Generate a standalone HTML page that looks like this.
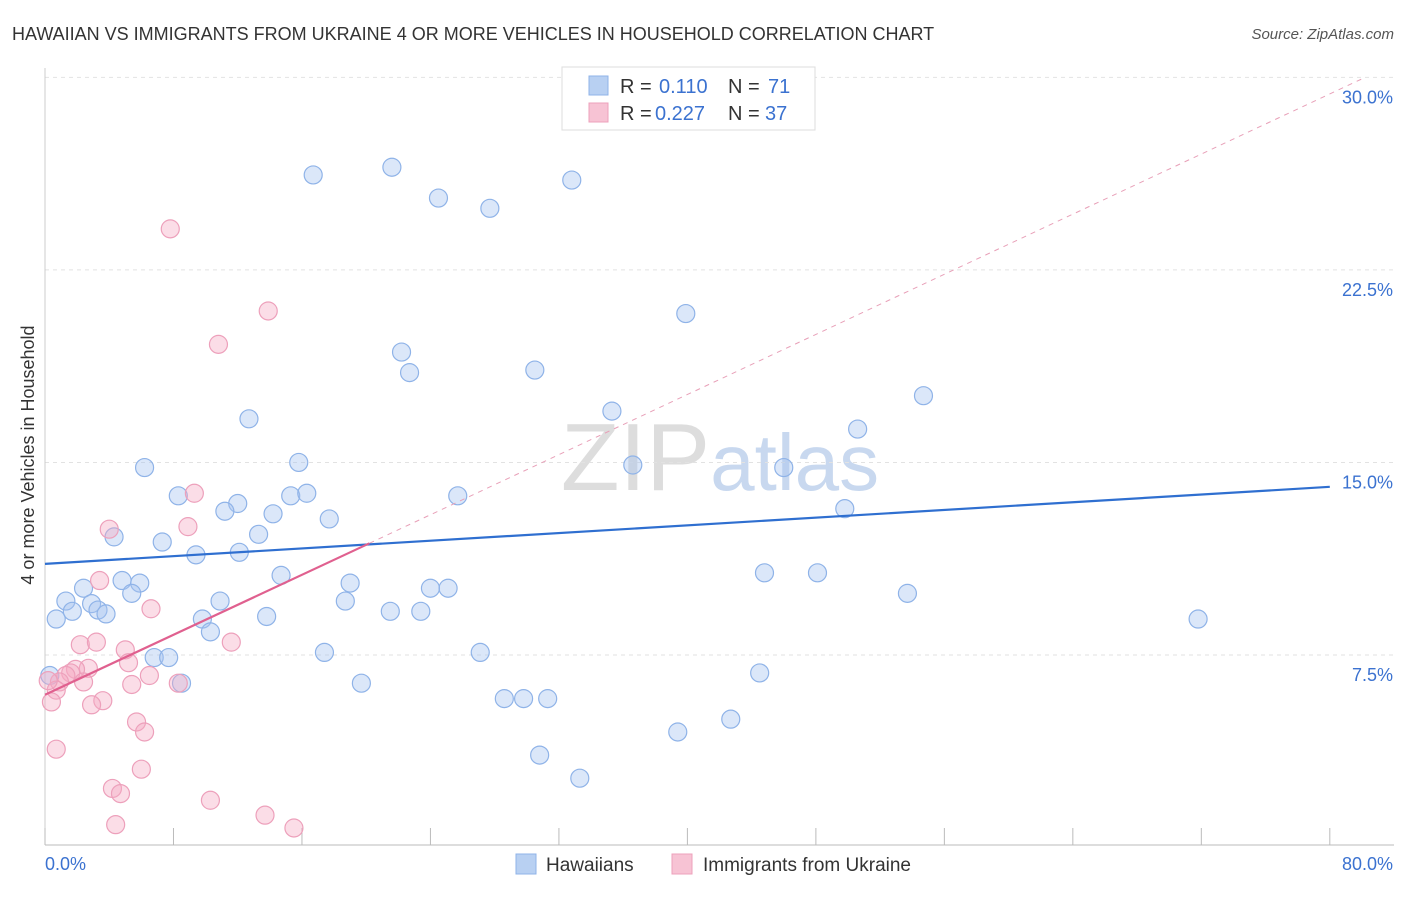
<!DOCTYPE html>
<html><head><meta charset="utf-8"><style>
body{margin:0;background:#fff;font-family:"Liberation Sans",sans-serif}
svg text{font-family:"Liberation Sans",sans-serif}
</style></head><body>
<svg id="chart" width="1406" height="892" xmlns="http://www.w3.org/2000/svg">
<text x="12" y="40" font-size="18" fill="#333">HAWAIIAN VS IMMIGRANTS FROM UKRAINE 4 OR MORE VEHICLES IN HOUSEHOLD CORRELATION CHART</text>
<text x="1394" y="39" font-size="15" fill="#555" font-style="italic" text-anchor="end">Source: ZipAtlas.com</text>
<text x="720" y="490" font-size="96" fill="#ddd" text-anchor="middle" font-family="Liberation Serif">ZIP<tspan fill="#c8d8ef" font-family="Liberation Sans" font-size="80">atlas</tspan></text>
<g id="grid"></g><g id="marks"></g>
<text x="34" y="455" font-size="18" fill="#333" text-anchor="middle" transform="rotate(-90 34 455)">4 or more Vehicles in Household</text>
<g>
<rect x="562" y="67" width="253" height="63" fill="#fff" stroke="#ddd"/>
<rect x="589" y="76" width="19" height="19" fill="#b8d0f2" stroke="#8fb3e8"/>
<rect x="589" y="103" width="19" height="19" fill="#f7c3d4" stroke="#eda0bb"/>
<text x="620" y="93" font-size="20" fill="#333">R =</text>
<text x="659" y="93" font-size="20" fill="#3b72d0">0.110</text>
<text x="728" y="93" font-size="20" fill="#333">N =</text>
<text x="768" y="93" font-size="20" fill="#3b72d0">71</text>
<text x="620" y="120" font-size="20" fill="#333">R =</text>
<text x="655" y="120" font-size="20" fill="#3b72d0">0.227</text>
<text x="728" y="120" font-size="20" fill="#333">N =</text>
<text x="765" y="120" font-size="20" fill="#3b72d0">37</text>
</g>
<g>
<rect x="516" y="854" width="20" height="20" fill="#b8d0f2" stroke="#8fb3e8"/>
<text x="546" y="871" font-size="19" fill="#333">Hawaiians</text>
<rect x="672" y="854" width="20" height="20" fill="#f7c3d4" stroke="#eda0bb"/>
<text x="703" y="871" font-size="19" fill="#333">Immigrants from Ukraine</text>
</g>
</svg>
<script>
const yTicks=[7.5,15,22.5,30];
const yTickLabels=["7.5%","15.0%","22.5%","30.0%"];
const xTicks=[0,8,16,24,32,40,48,56,64,72,80];
const hawX=[16.7,21.6,24.5,27.7,32.8,39.9,22.2,22.7,30.5,12.7,35.3,54.7,50.6,6.2,15.8,36.6,46.0,8.3,12.0,15.3,16.3,25.7,11.2,14.2,17.7,49.8,4.3,7.3,9.4,12.1,13.3,14.7,19.0,24.0,25.1,44.8,48.1,53.7,2.4,4.8,5.9,5.4,1.3,2.9,1.7,3.3,3.8,0.7,10.9,9.8,13.8,18.7,21.5,23.4,71.8,10.3,6.8,7.7,8.5,17.4,19.7,27.1,44.5,28.6,29.8,31.3,42.7,39.4,30.8,33.3,0.3];
const hawY=[26.2,26.5,25.3,24.9,26.0,20.8,19.3,18.5,18.6,16.7,17.0,17.6,16.3,14.8,15.0,14.9,14.8,13.7,13.4,13.7,13.8,13.7,13.1,13.0,12.8,13.2,12.1,11.9,11.4,11.5,12.2,10.6,10.3,10.1,10.1,10.7,10.7,9.9,10.1,10.4,10.3,9.9,9.6,9.5,9.2,9.25,9.1,8.9,9.6,8.9,9.0,9.6,9.2,9.2,8.9,8.4,7.4,7.4,6.4,7.6,6.4,7.6,6.8,5.8,5.8,5.8,5.0,4.5,3.6,2.7,6.7];
const ukrX=[7.8,13.9,10.8,9.3,8.9,4.0,3.4,6.6,2.2,3.2,5.0,11.6,5.2,2.7,1.9,1.6,1.3,0.9,2.4,5.4,6.5,8.3,0.7,0.4,3.6,2.9,5.7,6.2,0.7,6.0,4.2,4.7,10.3,13.7,4.4,15.5,0.2];
const ukrY=[24.1,20.9,19.6,13.8,12.5,12.4,10.4,9.3,7.9,8.0,7.7,8.0,7.2,6.98,6.94,6.8,6.7,6.45,6.45,6.35,6.7,6.4,6.13,5.67,5.72,5.56,4.89,4.5,3.83,3.05,2.3,2.1,1.84,1.26,0.89,0.76,6.5];
const hawTrend=[11.05,14.05];
const ukrTrend=[5.95,11.85];
const ukrDashEnd=[82.2,30.0];
const ukrDashStart=20.2;
const X=v=>45+v*16.06, Y=v=>847.5-v*25.67;
const NS="http://www.w3.org/2000/svg";
function mk(tag,attrs,parent){const e=document.createElementNS(NS,tag);for(const k in attrs)e.setAttribute(k,attrs[k]);parent.appendChild(e);return e;}
const grid=document.getElementById('grid'), marks=document.getElementById('marks');
yTicks.forEach((t,i)=>{
 const l=mk('line',{x1:45,x2:1394,y1:Y(t),y2:Y(t),stroke:'#e2e2e2','stroke-dasharray':'4,4'},grid);
 
 
 const tx=mk('text',{x:1393,y:Y(t)+26,'font-size':18,fill:'#3b72d0','text-anchor':'end'},grid);
 tx.textContent=yTickLabels[i];
 
 
});
const ax=mk('line',{x1:45,x2:1394,y1:845,y2:845,stroke:'#bbb'},grid);


const yax=mk('line',{x1:45,x2:45,y1:68,y2:845,stroke:'#ccc'},grid);


xTicks.forEach(t=>{
 const l=mk('line',{x1:X(t),x2:X(t),y1:828,y2:845,stroke:'#bbb'},grid);
 
 
});
const xl0=mk('text',{x:45,y:870,'font-size':18,fill:'#3b72d0'},grid);
xl0.textContent='0.0%';


const xl1=mk('text',{x:1393,y:870,'font-size':18,fill:'#3b72d0','text-anchor':'end'},grid);
xl1.textContent='80.0%';


hawX.forEach((v,i)=>{
 const c=mk('circle',{cx:X(v),cy:Y(hawY[i]),r:9,fill:'rgba(164,194,240,0.4)',stroke:'#8fb3e8','stroke-width':1.2},marks);
 
 
});
ukrX.forEach((v,i)=>{
 const c=mk('circle',{cx:X(v),cy:Y(ukrY[i]),r:9,fill:'rgba(244,170,195,0.4)',stroke:'#eda0bb','stroke-width':1.2},marks);
 
 
});
const d=mk('line',{x1:X(ukrDashStart),y1:Y(ukrTrend[1]),x2:X(ukrDashEnd[0]),y2:Y(ukrDashEnd[1]),stroke:'#e8a0b8','stroke-dasharray':'5,5','stroke-width':1},marks);


const bt=mk('line',{x1:X(0),y1:Y(hawTrend[0]),x2:X(80),y2:Y(hawTrend[1]),stroke:'#2f6fd0','stroke-width':2.2},marks);


const pt=mk('line',{x1:X(0),y1:Y(ukrTrend[0]),x2:X(ukrDashStart),y2:Y(ukrTrend[1]),stroke:'#e0608f','stroke-width':2.2},marks);


</script>
</body></html>
